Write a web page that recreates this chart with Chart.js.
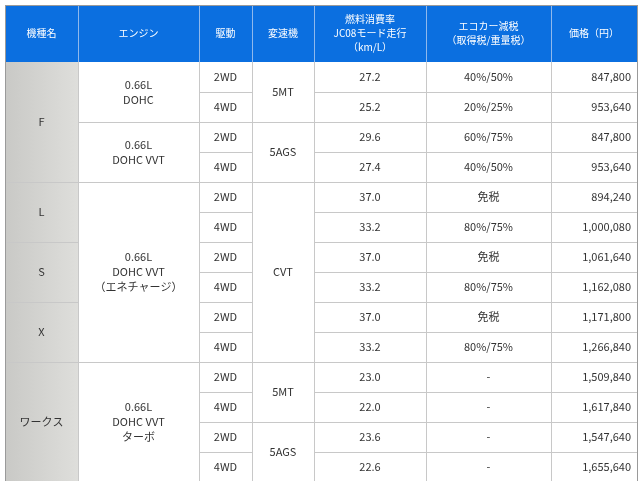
<!DOCTYPE html>
<html><head><meta charset="utf-8">
<script src="https://cdn.jsdelivr.net/npm/chart.js@4"></script>
<style>html,body{margin:0;padding:0;background:#fff}#w{width:640px;height:481px}</style>
</head><body><div id="w"><canvas id="c"></canvas></div>
<script>
const headers = ["機種名","エンジン","駆動","変速機","燃料消費率\nJC08モード走行\n（km/L）","エコカー減税\n（取得税/重量税）","価格（円）"];
const drive = ["2WD","4WD","2WD","4WD","2WD","4WD","2WD","4WD","2WD","4WD","2WD","4WD","2WD","4WD"];
const fuel = ["27.2","25.2","29.6","27.4","37.0","33.2","37.0","33.2","37.0","33.2","23.0","22.0","23.6","22.6"];
const eco = ["40%/50%","20%/25%","60%/75%","40%/50%","免税","80%/75%","免税","80%/75%","免税","80%/75%","-","-","-","-"];
const price = ["847,800","953,640","847,800","953,640","894,240","1,000,080","1,061,640","1,162,080","1,171,800","1,266,840","1,509,840","1,617,840","1,547,640","1,655,640"];
const models = [["F",0,3],["L",4,5],["S",6,7],["X",8,9],["ワークス",10,13]];
const engines = [["0.66L\nDOHC",0,1],["0.66L\nDOHC VVT",2,3],["0.66L\nDOHC VVT\n（エネチャージ）",4,9],["0.66L\nDOHC VVT\nターボ",10,13]];
const trans = [["5MT",0,1],["5AGS",2,3],["CVT",4,9],["5MT",10,11],["5AGS",12,13]];
const colEdges = [5,78,199,252,314,426,551,637];
const headerBottom = 62, rowH = 30;

const tablePlugin = {id:'table', afterDraw(chart){
  const ctx = chart.ctx, X = chart.scales.x, Y = chart.scales.y;
  const px = v => X.getPixelForValue(v), py = v => Y.getPixelForValue(v);
  const rowTop = r => py(headerBottom + r*rowH);
  const font = "11px 'Noto Sans CJK JP', 'Noto Sans', sans-serif";
  ctx.save();
  // header
  ctx.fillStyle = '#0b6fe0';
  ctx.fillRect(px(colEdges[0]), py(5), px(colEdges[7])-px(colEdges[0]), py(headerBottom)-py(5));
  // model column
  const g = ctx.createLinearGradient(px(5),0,px(78),0);
  g.addColorStop(0,'#c9c9c6'); g.addColorStop(1,'#dededb');
  ctx.fillStyle = g;
  ctx.fillRect(px(5), rowTop(0), px(78)-px(5), rowTop(14)-rowTop(0));
  ctx.textBaseline='middle';
  const multi = (txt,x,yc,align,color,lh=15)=>{
    const lines = txt.split('\n'); ctx.fillStyle=color; ctx.textAlign=align;
    lines.forEach((l,i)=>ctx.fillText(l,x,yc+(i-(lines.length-1)/2)*lh));
  };
  ctx.font = "10px 'Noto Sans CJK JP', sans-serif";
  headers.forEach((h,i)=>multi(h,(px(colEdges[i])+px(colEdges[i+1]))/2,(py(5)+py(headerBottom))/2,'center','#fff',14));
  // header dividers
  ctx.strokeStyle='#8fb8ec'; ctx.lineWidth=1;
  for(let i=1;i<7;i++){ctx.beginPath();ctx.moveTo(px(colEdges[i])+.5,py(5));ctx.lineTo(px(colEdges[i])+.5,py(headerBottom));ctx.stroke();}
  ctx.font = font;
  ctx.strokeStyle='#c8c8c8';
  const hline=(x0,x1,y)=>{ctx.beginPath();ctx.moveTo(x0,Math.round(y)+.5);ctx.lineTo(x1,Math.round(y)+.5);ctx.stroke();};
  const vline=(x,y0,y1)=>{ctx.beginPath();ctx.moveTo(Math.round(x)+.5,y0);ctx.lineTo(Math.round(x)+.5,y1);ctx.stroke();};
  const spanCol=(arr,c,align)=>arr.forEach(([t,a,b])=>{
    const yc=(rowTop(a)+rowTop(b+1))/2;
    multi(t,(px(colEdges[c])+px(colEdges[c+1]))/2,yc,'center','#333');
    hline(px(colEdges[c]),px(colEdges[c+1]),rowTop(b+1));
  });
  spanCol(models,0); spanCol(engines,1); spanCol(trans,3);
  for(let r=0;r<14;r++){
    const yc=(rowTop(r)+rowTop(r+1))/2;
    [[drive,2],[fuel,4],[eco,5]].forEach(([arr,c])=>{
      multi(arr[r],(px(colEdges[c])+px(colEdges[c+1]))/2,yc,'center','#333');
      hline(px(colEdges[c]),px(colEdges[c+1]),rowTop(r+1));
    });
    multi(price[r],px(colEdges[7])-6,yc,'right','#333');
    hline(px(colEdges[6]),px(colEdges[7]),rowTop(r+1));
  }
  for(let i=0;i<8;i++) vline(px(colEdges[i]),rowTop(0),rowTop(14));
  ctx.strokeStyle='#9a9a9a';
  ctx.strokeRect(px(5)+.5,py(5)+.5,px(637)-px(5),rowTop(14)-py(5));
  ctx.restore();
}};

new Chart(document.getElementById('c'),{
  type:'scatter',
  data:{datasets:[{data:[]}]},
  options:{responsive:true,maintainAspectRatio:false,animation:false,
    layout:{padding:0},
    plugins:{legend:{display:false},tooltip:{enabled:false}},
    scales:{x:{type:'linear',min:0,max:640,display:false},
            y:{type:'linear',min:0,max:481,reverse:true,display:false}}},
  plugins:[tablePlugin]
});
</script></body></html>
